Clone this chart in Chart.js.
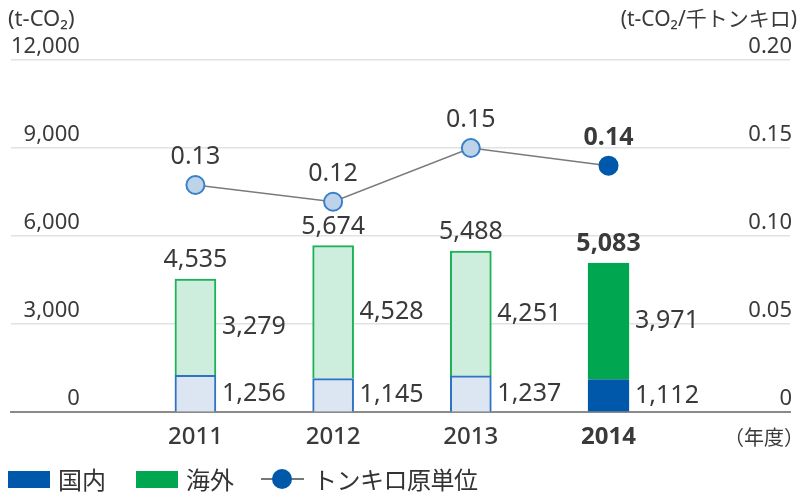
<!DOCTYPE html>
<html><head><meta charset="utf-8">
<script src="https://cdn.jsdelivr.net/npm/chart.js@4"></script>
<style>
html,body{margin:0;padding:0;background:#fff;}
#wrap{position:relative;width:801px;height:495px;overflow:hidden;}
canvas{position:absolute;left:0;top:0;}
#legend{position:absolute;left:8px;top:467px;display:flex;align-items:center;font-family:"Noto Sans CJK JP","Noto Sans",sans-serif;font-size:24px;color:#333;line-height:24px;}
.item{display:flex;align-items:center;}
.sw{display:inline-block;width:42px;height:17px;margin-right:8px;}
.mk{position:relative;width:43px;height:20px;margin-right:9px;}
.mk:before{content:"";position:absolute;left:0;right:0;top:9px;height:2px;background:#777;}
.mk:after{content:"";position:absolute;left:11px;top:0;width:20px;height:20px;border-radius:50%;background:#0058ab;}
</style></head>
<body><div id="wrap"><canvas id="c" width="801" height="495"></canvas>
<div id="legend">
<div class="item" style="margin-right:30px"><span class="sw" style="background:#0058ab"></span><span>国内</span></div>
<div class="item" style="margin-right:27px"><span class="sw" style="background:#00a650"></span><span>海外</span></div>
<div class="item"><span class="mk"></span><span style="letter-spacing:-0.5px">トンキロ原単位</span></div>
</div></div>
<script>
const categories = ['2011','2012','2013','2014'];
const domestic = [1256, 1145, 1237, 1112];
const overseas = [3279, 4528, 4251, 3971];
const totals = [4535, 5674, 5488, 5083];
const intensity = [0.129, 0.1195, 0.150, 0.140];
const intensityLabels = ['0.13','0.12','0.15','0.14'];
const leftTicks = [0, 3000, 6000, 9000, 12000];
const rightTicks = [0, 0.05, 0.10, 0.15, 0.20];
const highlightYear = '2014';
const leftTitle = '(t-CO₂)';
const rightTitle = '(t-CO₂/千トンキロ)';
const xUnit = '（年度）';

const FONT = '"Noto Sans", "Noto Sans CJK JP", sans-serif';
const TEXT = '#3a3a3a';
const isHi = c => c === highlightYear;
const fmt = n => n.toLocaleString('en-US');

const domBg = categories.map(c => isHi(c) ? '#0058ab' : '#dce6f2');
const domBd = categories.map(c => isHi(c) ? '#0058ab' : '#2f74c4');
const ovBg = categories.map(c => isHi(c) ? '#00a650' : '#cdeedc');
const ovBd = categories.map(c => isHi(c) ? '#00a650' : '#1db257');
const ptBg = categories.map(c => isHi(c) ? '#0058ab' : '#bdd3ea');
const ptBd = categories.map(c => isHi(c) ? '#0058ab' : '#3a80c8');

const labelPlugin = {
  id: 'labels',
  afterDatasetsDraw(chart) {
    const ctx = chart.ctx;
    const dm = chart.getDatasetMeta(0), om = chart.getDatasetMeta(1), lm = chart.getDatasetMeta(2);
    ctx.save();
    ctx.fillStyle = TEXT;
    ctx.textBaseline = 'middle';
    categories.forEach((c, i) => {
      const d = dm.data[i], o = om.data[i], p = lm.data[i];
      const rx = d.x + d.width / 2 + 6;
      ctx.font = '25px ' + FONT;
      ctx.textAlign = 'left';
      ctx.fillText(fmt(domestic[i]), rx, (d.y + d.base) / 2);
      ctx.fillText(fmt(overseas[i]), rx, (o.y + o.base) / 2);
      ctx.font = (isHi(c) ? 'bold ' : '') + '25px ' + FONT;
      ctx.textAlign = 'center';
      ctx.fillText(fmt(totals[i]), o.x, o.y - 19);
      ctx.fillText(intensityLabels[i], p.x, p.y - 28);
    });
    ctx.restore();
  },
  afterDraw(chart) {
    const ctx = chart.ctx, a = chart.chartArea;
    ctx.save();
    ctx.fillStyle = TEXT;
    ctx.textBaseline = 'middle';
    ctx.font = '22px ' + FONT;
    ctx.textAlign = 'left';
    ctx.fillText(leftTitle, 8, 20);
    ctx.font = '21px ' + FONT;
    ctx.textAlign = 'right';
    ctx.fillText(rightTitle, 797, 20);
    ctx.font = '20px "Noto Sans CJK JP", sans-serif';
    ctx.textAlign = 'center';
    ctx.fillText(xUnit, 764, a.bottom + 25);
    ctx.restore();
  }
};

new Chart(document.getElementById('c'), {
  data: {
    datasets: [
      { type: 'bar', label: '国内', yAxisID: 'y', order: 2,
        data: categories.map((c, i) => ({ x: Number(c), y: domestic[i] })),
        backgroundColor: domBg, borderColor: domBd, borderWidth: 2, barThickness: 41 },
      { type: 'bar', label: '海外', yAxisID: 'y', order: 2,
        data: categories.map((c, i) => ({ x: Number(c), y: overseas[i] })),
        backgroundColor: ovBg, borderColor: ovBd, borderWidth: 2, barThickness: 41 },
      { type: 'line', label: 'トンキロ原単位', yAxisID: 'y2', order: 0,
        data: categories.map((c, i) => ({ x: Number(c), y: intensity[i] })),
        borderColor: '#7a7a7a', borderWidth: 1.5, tension: 0,
        pointRadius: 9, pointHoverRadius: 9, pointBorderWidth: 2,
        pointBackgroundColor: ptBg, pointBorderColor: ptBd }
    ]
  },
  options: {
    responsive: false, animation: false, devicePixelRatio: 1,
    layout: { padding: { top: 60, left: 8, right: -3, bottom: 32 } },
    plugins: { legend: { display: false }, tooltip: { enabled: false } },
    scales: {
      x: {
        type: 'linear', stacked: true, offset: false,
        min: 2011 - 187.5 / 140, max: 2011 + 604.5 / 140,
        afterBuildTicks: s => { s.ticks = categories.map(c => ({ value: Number(c) })); },
        afterFit: s => { s.paddingLeft = 0; s.paddingRight = 0; },
        grid: { display: false, drawTicks: false },
        border: { display: true, color: '#8a8a8a', width: 2 },
        ticks: {
          padding: 11, color: TEXT,
          callback: v => String(v),
          font: ctx => ({ family: FONT, size: 24, weight: (ctx.tick && isHi(String(ctx.tick.value))) ? 'bold' : '500' })
        }
      },
      y: {
        type: 'linear', position: 'left', stacked: true, min: 0, max: 12000,
        afterBuildTicks: s => { s.ticks = leftTicks.map(v => ({ value: v })); },
        afterFit: s => { s.width = 0; s.paddingTop = 0; s.paddingBottom = 0; },
        grid: { color: '#e2e2e2', lineWidth: 1.5, drawTicks: false, tickLength: 0 },
        border: { display: false },
        ticks: { mirror: true, crossAlign: 'far', padding: 0, labelOffset: -13, color: TEXT,
          font: { family: FONT, size: 22 }, callback: v => fmt(v) }
      },
      y2: {
        type: 'linear', position: 'right', min: 0, max: 0.2,
        afterBuildTicks: s => { s.ticks = rightTicks.map(v => ({ value: v })); },
        afterFit: s => { s.width = 0; s.paddingTop = 0; s.paddingBottom = 0; },
        grid: { display: false, drawTicks: false, tickLength: 0 },
        border: { display: false },
        ticks: { mirror: true, padding: 2, labelOffset: -13, color: TEXT,
          font: { family: FONT, size: 22 }, callback: v => v === 0 ? '0' : v.toFixed(2) }
      }
    }
  },
  plugins: [labelPlugin]
});
</script>
</body></html>
